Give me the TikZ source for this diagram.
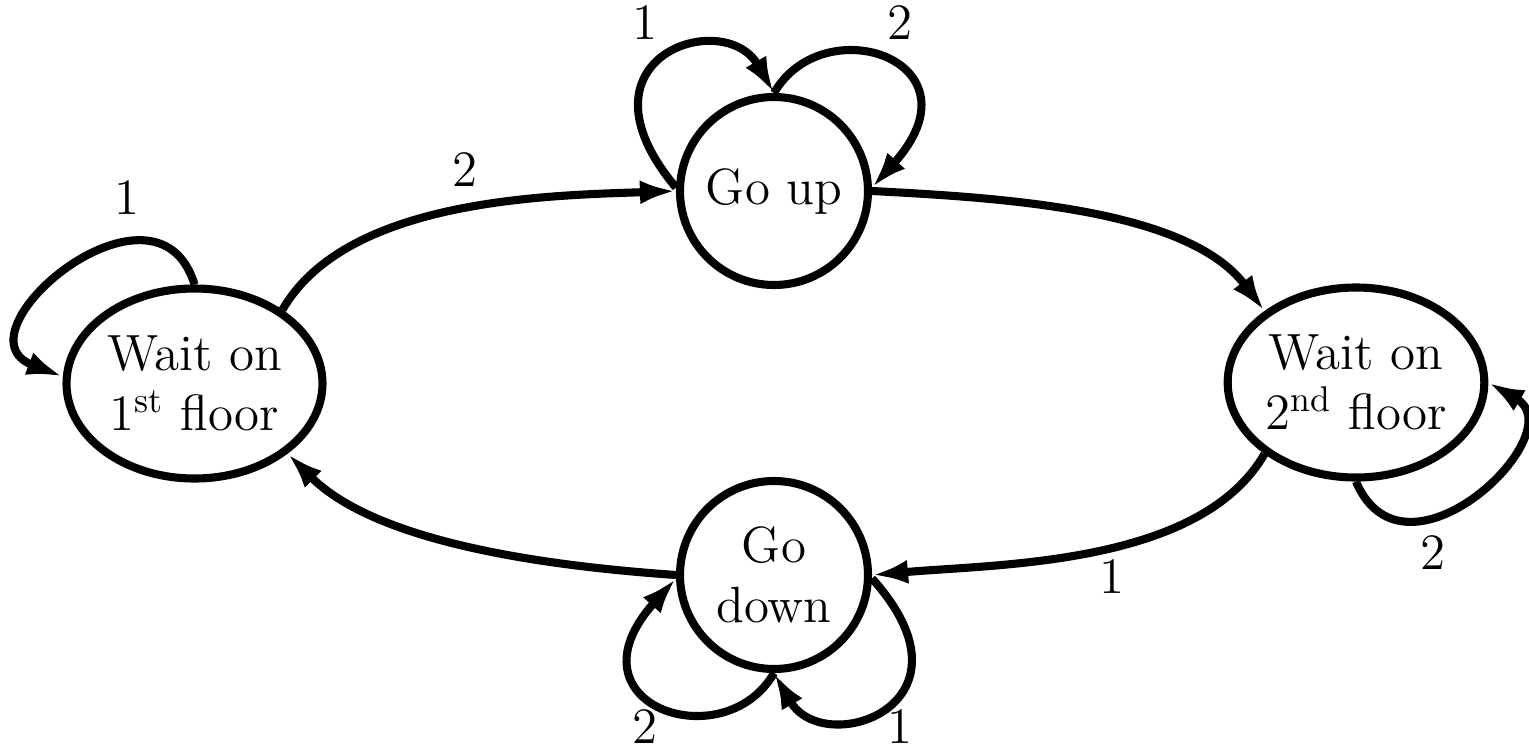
\documentclass[tikz,border=0pt]{standalone}
\usetikzlibrary{arrows.meta,shapes.geometric}
\begin{document}
\begin{tikzpicture}[>={Latex[length=3.6mm,width=2.4mm]},line width=2.3pt,
		every node/.style={font=\fontsize{14.5}{17}\selectfont},
		circstate/.style={draw,circle,minimum size=1.88cm,inner sep=0pt,align=center},
		ellstate/.style={draw,ellipse,minimum width=2.56cm,minimum height=1.9cm,inner sep=0pt,align=center},
		lbl/.style={inner sep=0pt}]
			\useasboundingbox (0,0) rectangle (15.29,7.49);
			\node[ellstate] (W1) at (1.945,3.655) {Wait on\\1\textsuperscript{st} floor};
			\node[circstate] (UP) at (7.74,5.58) {Go up};
			\node[ellstate] (W2) at (13.56,3.665) {Wait on\\2\textsuperscript{nd} floor};
			\node[circstate] (DN) at (7.74,1.74) {Go\\down};
			\draw[->] (W1.40) to[out=60,in=182,looseness=0.8] (UP.180);
			\draw[->] (UP.0) to[out=-3,in=127,looseness=0.8] (W2.142);
			\draw[->] (W2.218) to[out=240,in=5,looseness=0.8] (DN.0);
			\draw[->] (DN.180) to[out=176,in=315,looseness=0.8] (W1.323);
			\draw[->] (W1.90) to[out=107,in=159,out distance=1.3cm,in distance=1.2cm] (W1.177);
			\draw[->] (UP.178) to[out=130,in=120,out distance=1.7cm,in distance=1cm] (UP.90);
			\draw[->] (UP.90) to[out=60,in=48,out distance=1cm,in distance=1.7cm] (UP.2);
			\draw[->] (W2.270) to[out=293,in=330,out distance=1.25cm,in distance=1cm] (W2.0);
			\draw[->] (DN.-2) to[out=-48,in=-60,out distance=1.7cm,in distance=1cm] (DN.-90);
			\draw[->] (DN.-90) to[out=240,in=228,out distance=1cm,in distance=1.7cm] (DN.182);
			\node[lbl] (l1) at (6.45,7.26) {1};
			\node[lbl] (l2) at (9.00,7.26) {2};
			\node[lbl] (l3) at (4.65,5.79) {2};
			\node[lbl] (l4) at (1.27,5.51) {1};
			\node[lbl] (l5) at (14.33,1.96) {2};
			\node[lbl] (l6) at (11.12,1.72) {1};
			\node[lbl] (l7) at (6.45,0.22) {2};
			\node[lbl] (l8) at (9.00,0.22) {1};
		\end{tikzpicture}
\end{document}
